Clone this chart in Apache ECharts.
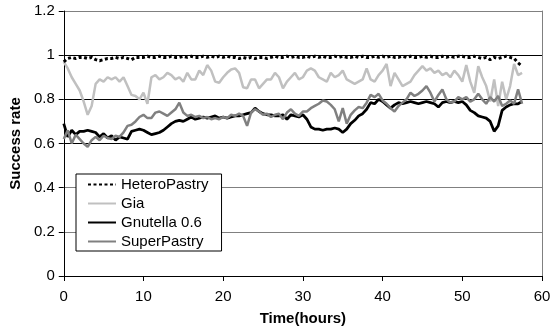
<!DOCTYPE html>
<html>
<head>
<meta charset="utf-8">
<script src="https://cdn.jsdelivr.net/npm/echarts@6/dist/echarts.min.js"></script>
<style>
html,body{margin:0;padding:0;background:#fff;}
#chart{width:559px;height:331px;}
</style>
</head>
<body>
<div id="chart"></div>
<script>
const hours = [0,0.5,1,1.5,2,2.5,3,3.5,4,4.5,5,5.5,6,6.5,7,7.5,8,8.5,9,9.5,
10,10.5,11,11.5,12,12.5,13,13.5,14,14.5,15,15.5,16,16.5,17,17.5,18,18.5,19,19.5,
20,20.5,21,21.5,22,22.5,23,23.5,24,24.5,25,25.5,26,26.5,27,27.5,28,28.5,29,29.5,
30,30.5,31,31.5,32,32.5,33,33.5,34,34.5,35,35.5,36,36.5,37,37.5,38,38.5,39,39.5,
40,40.5,41,41.5,42,42.5,43,43.5,44,44.5,45,45.5,46,46.5,47,47.5,48,48.5,49,49.5,
50,50.5,51,51.5,52,52.5,53,53.5,54,54.5,55,55.5,56,56.5,57,57.5];

const heteroPastry = [0.97,0.985,0.99,0.985,0.99,0.99,0.985,0.99,0.98,0.975,0.98,0.985,0.985,0.99,0.985,0.99,0.985,0.98,0.99,0.99,
0.99,0.995,0.99,0.99,0.995,0.99,0.99,0.995,0.99,0.99,0.995,0.99,0.995,0.99,0.99,0.995,0.99,0.995,0.99,0.995,
0.99,0.995,0.99,0.99,0.985,0.99,0.985,0.99,0.985,0.99,0.99,0.985,0.99,0.995,0.99,0.99,0.995,0.99,0.995,0.99,
0.99,0.995,0.99,0.995,0.99,0.995,0.99,0.99,0.995,0.99,0.995,0.99,0.99,0.995,0.99,0.995,0.99,0.99,0.995,0.99,
0.995,0.99,0.995,0.99,0.99,0.995,0.99,0.995,0.99,0.99,0.995,0.99,0.995,0.99,0.99,0.995,0.99,0.995,0.99,0.995,
0.995,0.99,0.99,0.995,0.99,0.985,0.99,0.98,0.99,0.985,0.99,0.995,0.99,0.985,0.965,0.95];

const gia = [0.97,0.94,0.90,0.87,0.84,0.79,0.73,0.77,0.87,0.89,0.88,0.90,0.89,0.90,0.88,0.90,0.86,0.82,0.815,0.80,
0.83,0.78,0.90,0.91,0.89,0.90,0.92,0.91,0.89,0.90,0.88,0.92,0.89,0.89,0.93,0.91,0.955,0.93,0.88,0.875,
0.90,0.92,0.935,0.94,0.92,0.855,0.85,0.89,0.89,0.85,0.87,0.89,0.89,0.92,0.90,0.85,0.88,0.90,0.92,0.89,
0.90,0.93,0.94,0.93,0.90,0.89,0.88,0.92,0.90,0.91,0.93,0.89,0.88,0.87,0.88,0.89,0.94,0.89,0.88,0.91,
0.93,0.96,0.86,0.92,0.89,0.86,0.87,0.88,0.91,0.93,0.95,0.93,0.94,0.92,0.93,0.91,0.92,0.90,0.93,0.91,
0.88,0.955,0.88,0.83,0.95,0.90,0.86,0.79,0.89,0.77,0.88,0.80,0.86,0.96,0.91,0.92];

const gnutella = [0.69,0.63,0.66,0.64,0.655,0.655,0.66,0.655,0.65,0.63,0.645,0.625,0.635,0.615,0.63,0.625,0.62,0.655,0.66,0.665,
0.66,0.65,0.64,0.645,0.65,0.66,0.675,0.69,0.70,0.705,0.70,0.71,0.72,0.71,0.715,0.72,0.715,0.72,0.725,0.715,
0.72,0.715,0.72,0.725,0.725,0.73,0.735,0.74,0.76,0.745,0.735,0.73,0.73,0.725,0.725,0.73,0.71,0.73,0.725,0.72,
0.73,0.71,0.675,0.665,0.665,0.66,0.665,0.665,0.67,0.665,0.65,0.665,0.69,0.705,0.725,0.735,0.755,0.785,0.78,0.80,
0.79,0.775,0.76,0.775,0.785,0.78,0.785,0.79,0.785,0.78,0.785,0.79,0.785,0.78,0.765,0.785,0.79,0.785,0.79,0.785,
0.79,0.775,0.75,0.74,0.725,0.72,0.715,0.70,0.655,0.68,0.75,0.765,0.775,0.78,0.78,0.79];

const superPastry = [0.62,0.66,0.60,0.64,0.62,0.60,0.585,0.615,0.63,0.615,0.635,0.625,0.62,0.635,0.63,0.65,0.68,0.685,0.70,0.72,
0.73,0.715,0.715,0.74,0.745,0.735,0.725,0.74,0.755,0.785,0.74,0.725,0.73,0.72,0.725,0.715,0.72,0.71,0.715,0.71,
0.72,0.715,0.73,0.725,0.735,0.725,0.68,0.74,0.755,0.745,0.73,0.735,0.72,0.73,0.735,0.71,0.74,0.755,0.735,0.725,
0.745,0.745,0.76,0.77,0.78,0.795,0.79,0.775,0.755,0.70,0.76,0.69,0.73,0.75,0.765,0.76,0.785,0.82,0.81,0.825,
0.795,0.78,0.76,0.745,0.77,0.785,0.80,0.83,0.815,0.825,0.84,0.86,0.83,0.79,0.82,0.845,0.80,0.785,0.79,0.81,
0.80,0.81,0.79,0.80,0.825,0.80,0.78,0.81,0.79,0.815,0.77,0.78,0.795,0.78,0.845,0.78];

const seriesNames = ['HeteroPastry','Gia','Gnutella 0.6','SuperPastry'];
const xTicks = [0,10,20,30,40,50,60];
const yTicks = [0,0.2,0.4,0.6,0.8,1,1.2];

function pairs(vals){ return hours.map((h,i)=>[h, vals[i]]); }

const FONT = "'Liberation Sans', Arial, sans-serif";
const chart = echarts.init(document.getElementById('chart'), null, {renderer:'canvas'});

chart.setOption({
  animation: false,
  backgroundColor: '#fff',
  textStyle: {fontFamily: FONT},
  grid: {left: 62, right: 17, top: 11, bottom: 52, containLabel: false},
  legend: {
    orient: 'vertical',
    left: 76, top: 174,
    data: seriesNames,
    backgroundColor: '#fff',
    borderColor: '#000', borderWidth: 1, borderRadius: 0,
    padding: [3, 13, 2, 11],
    itemWidth: 28, itemHeight: 14, itemGap: 4,
    itemStyle: {opacity: 0, borderWidth: 0},
    textStyle: {fontFamily: FONT, fontSize: 15, color: '#000', lineHeight: 15}
  },
  xAxis: {
    type: 'value', min: xTicks[0], max: xTicks[xTicks.length-1], interval: 10,
    name: 'Time(hours)', nameLocation: 'middle', nameGap: 35,
    nameTextStyle: {fontFamily: FONT, fontSize: 15, fontWeight: 'bold', color: '#000'},
    axisLine: {show: true, onZero: false, lineStyle: {color: '#000', width: 1}},
    axisTick: {show: true, inside: false, length: 5, lineStyle: {color: '#000'}},
    axisLabel: {fontFamily: FONT, fontSize: 15, color: '#000', margin: 13},
    splitLine: {show: false}
  },
  yAxis: [{
    type: 'value', min: yTicks[0], max: yTicks[yTicks.length-1], interval: 0.2,
    name: 'Success rate', nameLocation: 'middle', nameGap: 34, nameRotate: 90,
    nameTextStyle: {fontFamily: FONT, fontSize: 15, fontWeight: 'bold', color: '#000'},
    axisLine: {show: true, lineStyle: {color: '#000', width: 1}},
    axisTick: {show: true, inside: false, length: 5, lineStyle: {color: '#000'}},
    axisLabel: {fontFamily: FONT, fontSize: 15, color: '#000', margin: 9},
    splitLine: {show: true, lineStyle: {color: ['#000','#808080','#808080','#000','#000','#000','#808080'], width: 1}}
  },{
    type: 'value', position: 'right', min: 0, max: 1.2, interval: 0.2,
    axisLine: {show: true, lineStyle: {color: '#808080', width: 1}},
    axisTick: {show: false}, axisLabel: {show: false}, splitLine: {show: false}
  }],
  series: [
    {name: seriesNames[0], type: 'line', data: pairs(heteroPastry), showSymbol: false, symbol: 'none',
     lineStyle: {color: '#000', width: 3, type: [3, 2.5], cap: 'butt'}, itemStyle: {color: '#000'}, z: 5},
    {name: seriesNames[1], type: 'line', data: pairs(gia), showSymbol: false, symbol: 'none',
     lineStyle: {color: '#c0c0c0', width: 2.5}, itemStyle: {color: '#c0c0c0'}, z: 2},
    {name: seriesNames[2], type: 'line', data: pairs(gnutella), showSymbol: false, symbol: 'none',
     lineStyle: {color: '#000', width: 2.75}, itemStyle: {color: '#000'}, z: 3},
    {name: seriesNames[3], type: 'line', data: pairs(superPastry), showSymbol: false, symbol: 'none',
     lineStyle: {color: '#808080', width: 2.5}, itemStyle: {color: '#808080'}, z: 4}
  ]
});
</script>
</body>
</html>
